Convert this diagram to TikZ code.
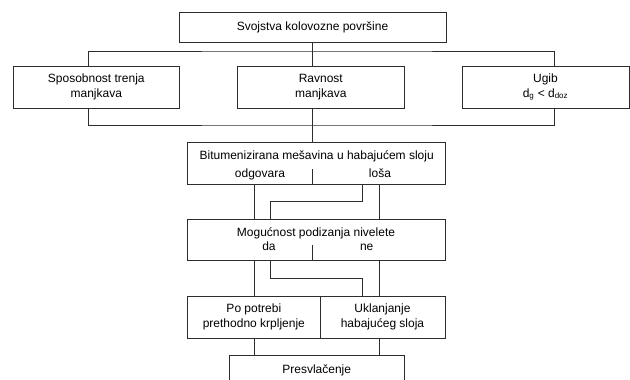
\documentclass[tikz,border=0pt]{standalone}
\usepackage{fontspec}
\setmainfont{Liberation Sans}
\usepackage{tikz}
\usetikzlibrary{positioning, calc}
\definecolor{cLine}{RGB}{45,45,45}
\tikzset{
	box/.style ={rectangle, draw=cLine, line width=0.9pt, minimum height=42pt, align=center, inner sep=0pt},
	txt/.style ={inner sep=0pt, anchor=base},
	link/.style={draw=cLine, line width=0.9pt},
}

\begin{document}
\begin{tikzpicture}[x=1pt, y=-1pt, font=\fontsize{12}{15}\selectfont]
			\clip (0,0) rectangle (630,380);
			% lanes of the connectors
			\coordinate (lL) at (88.3,0);
			\coordinate (lR) at (554.3,0);
			\coordinate (lA) at (254.5,0);
			\coordinate (lB) at (270.7,0);
			\coordinate (lC) at (362.5,0);
			\coordinate (lD) at (379,0);
			\coordinate (jt) at (312.5,51);
			\coordinate (jb) at (312.5,125);
			\node[box, minimum width=267pt, minimum height=30pt] (svoj) at (312.5,27) {Svojstva kolovozne površine};
			\node[box, minimum width=166pt] (trenje) at (96.3,87) {Sposobnost trenja\\manjkava};
			\node[box, minimum width=167pt] (ravn) at (320.8,87) {Ravnost\\manjkava};
			\node[box, minimum width=167pt] (ugib) at (545.5,87) {Ugib\\d\textsubscript{g} < d\textsubscript{doz}};
			\node[box, minimum width=257.3pt, minimum height=41.3pt] (bit) at (316.3,163.5) {};
			\node[txt] (bitT) at (316.7,159.3) {Bitumenizirana mešavina u habajućem sloju};
			\node[txt] (odg) at (260,177.7) {odgovara};
			\node[txt] (losa) at (380,177.7) {loša};
			\node[box, minimum width=257.3pt, minimum height=41.7pt] (moguc) at (316.3,239.8) {};
			\node[txt] (mogT) at (316,236.7) {Mogućnost podizanja nivelete};
			\node[txt] (da) at (269,250.7) {da};
			\node[txt] (ne) at (366.7,250.7) {ne};
			\node[box, minimum width=132.3pt, minimum height=42.3pt] (potr) at (253.85,317.15) {Po potrebi\\prethodno krpljenje};
			\node[box, minimum width=125pt, minimum height=42.3pt] (ukl) at (382.5,317.15) {Uklanjanje\\habajućeg sloja};
			\node[box, minimum width=175.3pt, minimum height=30pt, anchor=north] (presv) at (316.7,355) {Presvlačenje};
			% top tree
			\draw[link] (trenje.north -| lL) |- (jt) -| (ugib.north -| lR);
			\draw[link] (svoj.south) -- (svoj.south |- ravn.north);
			\draw[link] (trenje.south -| lL) |- (jb) -| (ugib.south -| lR);
			\draw[link] (ravn.south -| svoj.south) -- (bit.north -| svoj.south);
			% dividers
			\draw[link] (bit.south -| svoj.south) -- ++(0,-15.5);
			\draw[link] (moguc.south -| svoj.south) -- ++(0,-15.7);
			% lower connectors
			\draw[link] (bit.south -| lA) -- (moguc.north -| lA);
			\draw[link] (bit.south -| lC) -- ++(0,16.7) -| (moguc.north -| lB);
			\draw[link] (bit.south -| lD) -- (moguc.north -| lD);
			\draw[link] (moguc.south -| lA) -- (potr.north -| lA);
			\draw[link] (moguc.south -| lB) -- ++(0,17) -| (ukl.north -| lC);
			\draw[link] (moguc.south -| lD) -- (ukl.north -| lD);
			\draw[link] (potr.south -| lA) -- (presv.north -| lA);
			\draw[link] (ukl.south -| lD) -- (presv.north -| lD);
		\end{tikzpicture}
\end{document}
